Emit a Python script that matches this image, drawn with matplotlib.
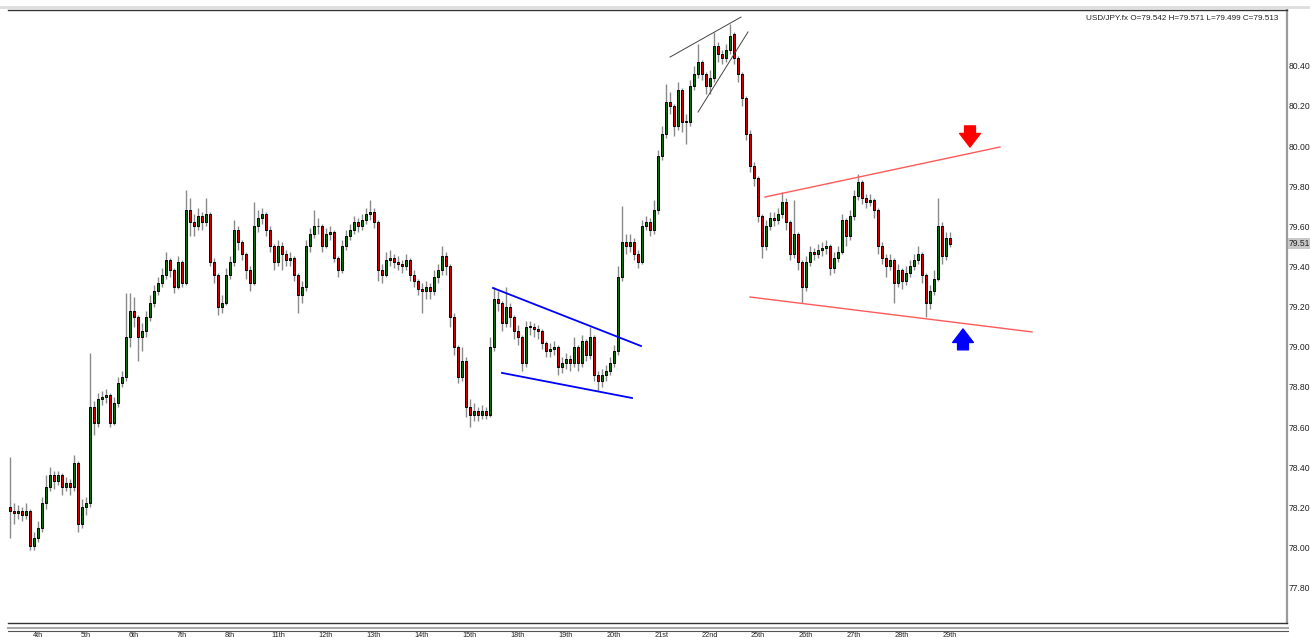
import matplotlib
matplotlib.use('Agg')
import matplotlib.pyplot as plt
from matplotlib.lines import Line2D
import numpy as np

plt.rcParams['font.family'] = ['Liberation Sans', 'DejaVu Sans']

# ---- 2-hour bars, USD/JPY ----
opens = [78.20, 78.18, 78.17, 78.18, 78.16, 78.18, 78.01, 78.05, 78.10, 78.22,
         78.30, 78.36, 78.33, 78.36, 78.30, 78.32, 78.30, 78.42, 78.12, 78.20,
         78.22, 78.70, 78.62, 78.74, 78.75, 78.76, 78.62, 78.72, 78.82, 78.85,
         79.05, 79.18, 79.15, 79.05, 79.08, 79.15, 79.22, 79.28, 79.32, 79.36,
         79.43, 79.38, 79.30, 79.42, 79.32, 79.68, 79.62, 79.60, 79.65, 79.62,
         79.66, 79.42, 79.36, 79.20, 79.22, 79.36, 79.42, 79.58, 79.52, 79.46,
         79.38, 79.32, 79.60, 79.64, 79.66, 79.58, 79.50, 79.42, 79.50, 79.46,
         79.43, 79.44, 79.36, 79.26, 79.30, 79.50, 79.56, 79.60, 79.60, 79.50,
         79.56, 79.57, 79.44, 79.38, 79.50, 79.55, 79.58, 79.62, 79.60, 79.63,
         79.66, 79.67, 79.62, 79.38, 79.36, 79.43, 79.44, 79.42, 79.41, 79.40,
         79.43, 79.36, 79.33, 79.29, 79.28, 79.30, 79.28, 79.35, 79.38, 79.45,
         79.40, 79.15, 79.00, 78.85, 78.93, 78.70, 78.66, 78.68, 78.66, 78.68,
         78.66, 79.00, 79.24, 79.22, 79.12, 79.20, 79.15, 79.08, 79.05, 78.92,
         79.10, 79.10, 79.09, 79.08, 79.02, 78.98, 78.99, 79.00, 78.90, 78.92,
         78.94, 78.92, 79.00, 78.92, 79.03, 78.96, 79.05, 78.86, 78.83, 78.86,
         78.88, 78.92, 78.98, 79.35, 79.52, 79.50, 79.52, 79.46, 79.42, 79.60,
         79.62, 79.58, 79.68, 79.95, 80.06, 80.22, 80.20, 80.10, 80.28, 80.12,
         80.12, 80.30, 80.36, 80.42, 80.36, 80.30, 80.34, 80.50, 80.46, 80.44,
         80.48, 80.56, 80.44, 80.36, 80.24, 80.06, 79.90, 79.84, 79.65, 79.50,
         79.60, 79.64, 79.63, 79.66, 79.72, 79.62, 79.46, 79.56, 79.42, 79.30,
         79.42, 79.47, 79.46, 79.48, 79.49, 79.50, 79.39, 79.44, 79.47, 79.63,
         79.55, 79.65, 79.75, 79.82, 79.74, 79.72, 79.73, 79.68, 79.50, 79.44,
         79.40, 79.43, 79.32, 79.38, 79.33, 79.37, 79.40, 79.43, 79.46, 79.36,
         79.22, 79.28, 79.34, 79.60, 79.45, 79.542]
highs = [78.45, 78.22, 78.21, 78.20, 78.22, 78.19, 78.08, 78.13, 78.25, 78.36,
         78.40, 78.38, 78.38, 78.37, 78.35, 78.34, 78.46, 78.43, 78.24, 78.25,
         78.97, 78.73, 78.77, 78.78, 78.79, 78.77, 78.75, 78.85, 78.88, 79.27,
         79.27, 79.25, 79.16, 79.12, 79.18, 79.26, 79.31, 79.35, 79.39, 79.47,
         79.44, 79.39, 79.45, 79.43, 79.78, 79.74, 79.66, 79.69, 79.67, 79.74,
         79.67, 79.44, 79.37, 79.26, 79.39, 79.45, 79.63, 79.60, 79.53, 79.47,
         79.40, 79.72, 79.68, 79.69, 79.67, 79.60, 79.51, 79.53, 79.52, 79.48,
         79.47, 79.45, 79.37, 79.33, 79.53, 79.59, 79.68, 79.64, 79.61, 79.59,
         79.60, 79.58, 79.45, 79.53, 79.58, 79.61, 79.65, 79.64, 79.66, 79.69,
         79.73, 79.69, 79.63, 79.41, 79.47, 79.48, 79.46, 79.45, 79.43, 79.46,
         79.44, 79.38, 79.34, 79.32, 79.33, 79.32, 79.38, 79.41, 79.50, 79.47,
         79.41, 79.17, 79.01, 79.00, 78.95, 78.74, 78.72, 78.70, 78.71, 78.70,
         79.05, 79.30, 79.28, 79.23, 79.30, 79.22, 79.16, 79.11, 79.06, 79.13,
         79.13, 79.12, 79.11, 79.09, 79.03, 79.02, 79.03, 79.01, 78.95, 78.97,
         78.96, 79.05, 79.01, 79.06, 79.04, 79.10, 79.06, 78.88, 78.89, 78.91,
         78.95, 79.01, 79.40, 79.70, 79.56, 79.56, 79.54, 79.48, 79.63, 79.65,
         79.64, 79.73, 79.98, 80.10, 80.31, 80.27, 80.21, 80.32, 80.29, 80.16,
         80.33, 80.40, 80.51, 80.43, 80.37, 80.38, 80.57, 80.52, 80.48, 80.51,
         80.61, 80.57, 80.45, 80.37, 80.25, 80.08, 79.92, 79.85, 79.66, 79.63,
         79.67, 79.67, 79.69, 79.77, 79.74, 79.63, 79.73, 79.57, 79.43, 79.45,
         79.50, 79.49, 79.51, 79.52, 79.53, 79.51, 79.47, 79.50, 79.66, 79.64,
         79.68, 79.78, 79.86, 79.83, 79.76, 79.76, 79.74, 79.69, 79.52, 79.46,
         79.46, 79.44, 79.41, 79.39, 79.40, 79.43, 79.46, 79.50, 79.47, 79.37,
         79.31, 79.38, 79.74, 79.62, 79.57, 79.571]
lows = [78.05, 78.12, 78.14, 78.13, 78.14, 77.99, 77.99, 78.03, 78.08, 78.19,
        78.28, 78.29, 78.31, 78.26, 78.28, 78.26, 78.28, 78.08, 78.10, 78.16,
        78.20, 78.56, 78.60, 78.71, 78.72, 78.60, 78.61, 78.70, 78.80, 78.83,
        79.00, 79.10, 78.93, 78.98, 79.05, 79.13, 79.20, 79.26, 79.30, 79.34,
        79.35, 79.27, 79.29, 79.30, 79.31, 79.55, 79.55, 79.58, 79.58, 79.60,
        79.40, 79.32, 79.16, 79.17, 79.21, 79.34, 79.40, 79.48, 79.43, 79.34,
        79.28, 79.31, 79.57, 79.61, 79.55, 79.47, 79.38, 79.40, 79.38, 79.40,
        79.40, 79.33, 79.17, 79.22, 79.28, 79.47, 79.54, 79.56, 79.47, 79.49,
        79.53, 79.42, 79.35, 79.37, 79.48, 79.53, 79.56, 79.57, 79.58, 79.61,
        79.63, 79.59, 79.33, 79.32, 79.35, 79.40, 79.39, 79.38, 79.37, 79.38,
        79.33, 79.30, 79.26, 79.17, 79.24, 79.24, 79.26, 79.32, 79.36, 79.36,
        79.10, 78.96, 78.82, 78.83, 78.65, 78.60, 78.63, 78.63, 78.64, 78.64,
        78.65, 78.98, 79.18, 79.08, 79.10, 79.10, 79.04, 79.01, 78.88, 78.90,
        79.06, 79.05, 79.04, 78.99, 78.95, 78.95, 78.96, 78.86, 78.87, 78.89,
        78.88, 78.90, 78.88, 78.90, 78.93, 78.94, 78.83, 78.78, 78.80, 78.83,
        78.86, 78.90, 78.96, 79.33, 79.46, 79.47, 79.43, 79.39, 79.41, 79.58,
        79.55, 79.56, 79.66, 79.93, 80.04, 80.16, 80.05, 80.08, 80.07, 80.01,
        80.10, 80.28, 80.34, 80.33, 80.26, 80.26, 80.32, 80.42, 80.41, 80.42,
        80.46, 80.41, 80.32, 80.20, 80.03, 79.87, 79.80, 79.62, 79.44, 79.48,
        79.58, 79.60, 79.61, 79.64, 79.58, 79.43, 79.44, 79.38, 79.22, 79.28,
        79.40, 79.43, 79.44, 79.45, 79.46, 79.36, 79.37, 79.42, 79.46, 79.50,
        79.53, 79.63, 79.73, 79.71, 79.69, 79.70, 79.64, 79.46, 79.41, 79.35,
        79.38, 79.22, 79.30, 79.29, 79.31, 79.35, 79.38, 79.41, 79.32, 79.15,
        79.19, 79.26, 79.33, 79.41, 79.43, 79.499]
closes = [78.18, 78.17, 78.18, 78.16, 78.18, 78.01, 78.05, 78.10, 78.22, 78.30,
          78.36, 78.33, 78.36, 78.30, 78.32, 78.30, 78.42, 78.12, 78.20, 78.22,
          78.70, 78.62, 78.74, 78.75, 78.76, 78.62, 78.72, 78.82, 78.85, 79.05,
          79.18, 79.15, 79.05, 79.08, 79.15, 79.22, 79.28, 79.32, 79.36, 79.43,
          79.38, 79.30, 79.42, 79.32, 79.68, 79.62, 79.60, 79.65, 79.62, 79.66,
          79.42, 79.36, 79.20, 79.22, 79.36, 79.42, 79.58, 79.52, 79.46, 79.38,
          79.32, 79.60, 79.64, 79.66, 79.58, 79.50, 79.42, 79.50, 79.46, 79.43,
          79.44, 79.36, 79.26, 79.30, 79.50, 79.56, 79.60, 79.60, 79.50, 79.56,
          79.57, 79.44, 79.38, 79.50, 79.55, 79.58, 79.62, 79.60, 79.63, 79.66,
          79.67, 79.62, 79.38, 79.36, 79.43, 79.44, 79.42, 79.41, 79.40, 79.43,
          79.36, 79.33, 79.29, 79.28, 79.30, 79.28, 79.35, 79.38, 79.45, 79.40,
          79.15, 79.00, 78.85, 78.93, 78.70, 78.66, 78.68, 78.66, 78.68, 78.66,
          79.00, 79.24, 79.22, 79.12, 79.20, 79.15, 79.08, 79.05, 78.92, 79.10,
          79.10, 79.09, 79.08, 79.02, 78.98, 78.99, 79.00, 78.90, 78.92, 78.94,
          78.92, 79.00, 78.92, 79.03, 78.96, 79.05, 78.86, 78.83, 78.86, 78.88,
          78.92, 78.98, 79.35, 79.52, 79.50, 79.52, 79.46, 79.42, 79.60, 79.62,
          79.58, 79.68, 79.95, 80.06, 80.22, 80.20, 80.10, 80.28, 80.12, 80.12,
          80.30, 80.36, 80.42, 80.36, 80.30, 80.34, 80.50, 80.46, 80.44, 80.48,
          80.55, 80.44, 80.36, 80.24, 80.06, 79.90, 79.84, 79.65, 79.50, 79.60,
          79.64, 79.63, 79.66, 79.72, 79.62, 79.46, 79.56, 79.42, 79.30, 79.42,
          79.47, 79.46, 79.48, 79.49, 79.50, 79.39, 79.44, 79.47, 79.63, 79.55,
          79.65, 79.75, 79.82, 79.74, 79.72, 79.73, 79.68, 79.50, 79.44, 79.40,
          79.43, 79.32, 79.38, 79.33, 79.37, 79.40, 79.43, 79.46, 79.36, 79.22,
          79.28, 79.34, 79.60, 79.45, 79.54, 79.513]

day_labels = ['4th', '5th', '6th', '7th', '8th', '11th', '12th', '13th', '14th', '15th',
              '18th', '19th', '20th', '21st', '22nd', '25th', '26th', '27th', '28th', '29th']
first_day_bar = 7
bars_per_day = 12

# trend lines: (bar0, price0, bar1, price1, colour, width)
trendlines = [
    (120.75, 79.293, 157.75, 79.004, '#0000ff', 1.3),   # flag top
    (123.0, 78.870, 155.5, 78.745, '#0000ff', 1.3),     # flag bottom
    (165.0, 80.443, 182.75, 80.642, '#444444', 0.7),    # wedge top
    (172.0, 80.169, 184.5, 80.568, '#444444', 0.7),     # wedge bottom
    (188.75, 79.746, 247.5, 79.995, '#ff5a5a', 1.0),    # channel top
    (185.0, 79.248, 255.5, 79.074, '#ff5a5a', 1.0),     # channel bottom
]

o = np.array(opens); h = np.array(highs); l = np.array(lows); c = np.array(closes)
idx = np.arange(len(c))

W, H = 1310, 637
fig = plt.figure(figsize=(W / 100, H / 100), dpi=100, facecolor='white')
ax = fig.add_axes([8 / W, (H - 623) / H, (1287 - 8) / W, (623 - 10) / H])

# wicks + bodies
ax.vlines(idx, l, h, color='#8a8a8a', linewidth=1.0, zorder=2)
up = c >= o
body = np.maximum(np.abs(c - o), 0.004)
ax.bar(idx[up], body[up], bottom=o[up], width=0.6, color='#0b6e0b',
       edgecolor='black', linewidth=0.7, zorder=3)
ax.bar(idx[~up], body[~up], bottom=c[~up], width=0.6, color='#cc0000',
       edgecolor='black', linewidth=0.7, zorder=3)

for x0, y0, x1, y1, col, lw in trendlines:
    ax.plot([x0, x1], [y0, y1], color=col, linewidth=lw, zorder=4)

# arrows (sell at the top line, buy at the bottom line)
ax.annotate('', xy=(240, 79.995), xytext=(240, 80.10),
            arrowprops=dict(arrowstyle='simple,head_length=0.75,head_width=1.15,tail_width=0.6',
                            color='#ff0000', mutation_scale=13, shrinkA=0, shrinkB=0))
ax.annotate('', xy=(238.25, 79.089), xytext=(238.25, 78.985),
            arrowprops=dict(arrowstyle='simple,head_length=0.75,head_width=1.15,tail_width=0.6',
                            color='#0000ff', mutation_scale=13, shrinkA=0, shrinkB=0))

ax.set_xlim(-0.5, 319.25)
ax.set_ylim(80 - 477 / 200.8, 80 + 136 / 200.8)

yt = np.round(np.arange(77.8, 80.41, 0.2), 2)
ax.yaxis.tick_right()
ax.set_yticks(yt)
ax.set_yticklabels([f'{v:.2f}' for v in yt])
ax.tick_params(axis='y', length=0, pad=1.5, labelsize=6.2, labelcolor='#222222')

ax.set_xticks([first_day_bar + bars_per_day * k for k in range(len(day_labels))])
ax.set_xticklabels(day_labels)
ax.tick_params(axis='x', length=0, pad=6.2, labelsize=5.3, labelcolor='#222222')

for side in ['top', 'bottom']:
    ax.spines[side].set_color('#333333')
    ax.spines[side].set_linewidth(1.0)
ax.spines['right'].set_color('#9a9a9a')
ax.spines['right'].set_linewidth(1.6)
ax.spines['left'].set_visible(False)

# last price tag on the price scale
ax.text(1.0012, c[-1], f'{c[-1]:.2f}', transform=ax.get_yaxis_transform(),
        fontsize=6.2, va='center', ha='left', color='#222222',
        bbox=dict(boxstyle='square,pad=0.12', facecolor='#c8c8c8', edgecolor='none'))

ax.text(0.9935, 0.992,
        f'USD/JPY.fx O={o[-1]:.3f} H={h[-1]:.3f} L={l[-1]:.3f} C={c[-1]:.3f}',
        transform=ax.transAxes, fontsize=5.9, ha='right', va='top', color='#222222')

# frame lines around the chart window
fig.add_artist(Line2D([0, 1], [(H - 6.5) / H] * 2, color='#dddddd', linewidth=2.0))
fig.add_artist(Line2D([8 / W, 1288 / W], [(H - 628) / H] * 2, color='#a8a8a8', linewidth=1.5))
fig.add_artist(Line2D([8 / W, 1288 / W], [(H - 630.5) / H] * 2, color='#555555', linewidth=0.8))

fig.savefig('out.png', dpi=100, facecolor='white')
